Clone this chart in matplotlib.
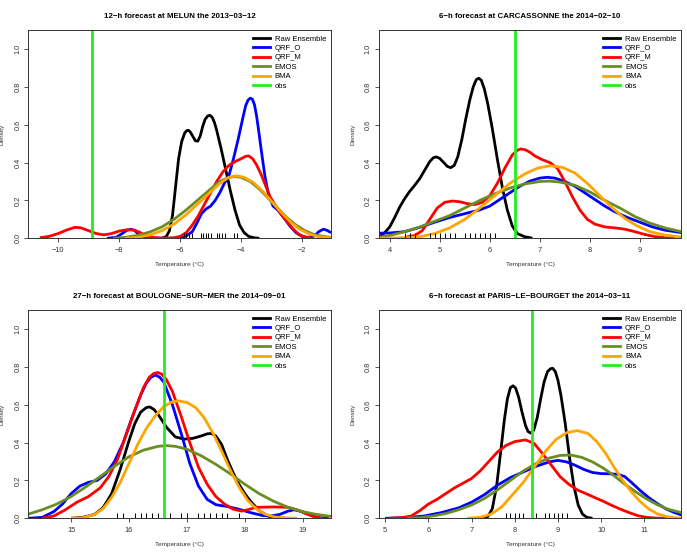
import matplotlib
matplotlib.use("Agg")
import matplotlib.pyplot as plt
from matplotlib.lines import Line2D

plt.rcParams['font.family'] = ['Liberation Sans', 'DejaVu Sans']

# ---------------- data ----------------
titles = ["12\u2212h forecast at MELUN the 2013\u221203\u221212",
          "6\u2212h forecast at CARCASSONNE the 2014\u221202\u221210",
          "27\u2212h forecast at BOULOGNE\u2212SUR\u2212MER the 2014\u221209\u221201",
          "6\u2212h forecast at PARIS\u2212LE\u2212BOURGET the 2014\u221203\u221211"]
xlims = [(-10.98, -1.05), (3.78, 9.83), (14.26, 19.49), (4.85, 11.86)]
xticks = [[-10, -8, -6, -4, -2], [4, 5, 6, 7, 8, 9], [15, 16, 17, 18, 19], [5, 6, 7, 8, 9, 10, 11]]
obs = [-8.9, 6.5, 16.6, 8.4]
legend_labels = ["Raw Ensemble", "QRF_O", "QRF_M", "EMOS", "BMA", "obs"]

# Panel 1 : MELUN
p1_raw = [(-6.6,0),(-6.45,0.01),(-6.35,0.04),(-6.25,0.12),(-6.15,0.27),(-6.05,0.42),(-5.95,0.51),(-5.85,0.556),(-5.78,0.569),(-5.72,0.57),(-5.66,0.56),(-5.6,0.543),(-5.5,0.515),(-5.42,0.513),(-5.34,0.54),(-5.26,0.59),(-5.18,0.628),(-5.1,0.645),(-5.03,0.65),(-4.95,0.64),(-4.87,0.61),(-4.8,0.57),(-4.65,0.47),(-4.5,0.36),(-4.35,0.25),(-4.2,0.15),(-4.05,0.07),(-3.9,0.03),(-3.75,0.01),(-3.55,0.002),(-3.4,0)]
p1_qrfo = [(-8.4,0),(-8.1,0.005),(-7.9,0.025),(-7.75,0.042),(-7.62,0.048),(-7.5,0.042),(-7.35,0.02),(-7.2,0.005),(-7.0,0),(-6.2,0),(-6.0,0.003),(-5.8,0.012),(-5.6,0.035),(-5.45,0.08),(-5.3,0.13),(-5.15,0.155),(-5.0,0.17),(-4.85,0.2),(-4.7,0.24),(-4.55,0.29),(-4.4,0.33),(-4.25,0.42),(-4.1,0.52),(-3.95,0.63),(-3.85,0.7),(-3.77,0.73),(-3.7,0.74),(-3.63,0.735),(-3.56,0.705),(-3.49,0.645),(-3.42,0.565),(-3.35,0.48),(-3.22,0.33),(-3.1,0.23),(-2.95,0.17),(-2.8,0.15),(-2.6,0.11),(-2.4,0.065),(-2.2,0.03),(-2.0,0.01),(-1.8,0.005),(-1.6,0.012),(-1.45,0.035),(-1.3,0.048),(-1.18,0.042),(-1.05,0.03)]
p1_qrfm = [(-10.6,0.003),(-10.3,0.01),(-10.0,0.025),(-9.7,0.045),(-9.45,0.058),(-9.25,0.055),(-9.0,0.04),(-8.75,0.025),(-8.5,0.018),(-8.25,0.025),(-8.0,0.038),(-7.75,0.045),(-7.5,0.043),(-7.3,0.03),(-7.1,0.012),(-6.85,0.004),(-6.5,0.001),(-6.2,0.003),(-6.0,0.01),(-5.8,0.03),(-5.6,0.07),(-5.4,0.12),(-5.2,0.18),(-5.0,0.24),(-4.8,0.3),(-4.6,0.35),(-4.4,0.385),(-4.2,0.405),(-4.0,0.42),(-3.85,0.433),(-3.75,0.435),(-3.62,0.42),(-3.5,0.39),(-3.35,0.34),(-3.2,0.28),(-3.05,0.22),(-2.9,0.18),(-2.7,0.13),(-2.5,0.09),(-2.3,0.05),(-2.1,0.02),(-1.9,0.006),(-1.7,0.001)]
p1_emos = [(-8.2,0),(-7.8,0.005),(-7.4,0.015),(-7.0,0.033),(-6.6,0.06),(-6.2,0.1),(-5.8,0.15),(-5.4,0.205),(-5.0,0.26),(-4.7,0.3),(-4.4,0.322),(-4.2,0.326),(-4.0,0.322),(-3.7,0.3),(-3.4,0.26),(-3.1,0.21),(-2.8,0.16),(-2.5,0.11),(-2.2,0.07),(-1.9,0.04),(-1.6,0.02),(-1.3,0.01),(-1.05,0.005)]
p1_bma = [(-7.8,0),(-7.4,0.005),(-7.0,0.017),(-6.6,0.04),(-6.2,0.075),(-5.8,0.125),(-5.4,0.185),(-5.0,0.245),(-4.7,0.29),(-4.4,0.322),(-4.15,0.33),(-3.9,0.322),(-3.6,0.295),(-3.3,0.25),(-3.0,0.195),(-2.7,0.14),(-2.4,0.09),(-2.1,0.05),(-1.8,0.025),(-1.5,0.01),(-1.05,0.003)]
p1_rug = [-5.88,-5.80,-5.72,-5.60,-5.31,-5.24,-5.16,-5.07,-4.99,-4.80,-4.72,-4.63,-4.52,-4.22,-4.14]

# Panel 2 : CARCASSONNE
p2_raw = [(3.78,0.005),(3.9,0.03),(4.0,0.06),(4.1,0.11),(4.2,0.165),(4.3,0.21),(4.4,0.248),(4.5,0.28),(4.6,0.315),(4.7,0.36),(4.8,0.405),(4.87,0.425),(4.93,0.43),(5.0,0.422),(5.08,0.4),(5.15,0.38),(5.22,0.373),(5.29,0.385),(5.36,0.43),(5.44,0.52),(5.52,0.63),(5.6,0.73),(5.67,0.8),(5.73,0.838),(5.78,0.845),(5.83,0.835),(5.89,0.79),(5.96,0.71),(6.05,0.58),(6.15,0.42),(6.25,0.27),(6.35,0.15),(6.45,0.065),(6.55,0.025),(6.7,0.008),(6.85,0.001)]
p2_qrfo = [(3.78,0.027),(4.0,0.028),(4.3,0.035),(4.6,0.058),(4.9,0.085),(5.2,0.11),(5.5,0.13),(5.8,0.15),(6.0,0.17),(6.2,0.205),(6.4,0.24),(6.6,0.275),(6.8,0.302),(7.0,0.318),(7.15,0.322),(7.3,0.318),(7.5,0.3),(7.7,0.275),(7.9,0.24),(8.1,0.205),(8.3,0.17),(8.5,0.14),(8.75,0.11),(9.0,0.085),(9.25,0.06),(9.5,0.043),(9.83,0.03)]
p2_qrfm = [(4.3,0.005),(4.5,0.015),(4.65,0.04),(4.8,0.1),(4.95,0.16),(5.1,0.19),(5.25,0.197),(5.4,0.193),(5.55,0.183),(5.7,0.178),(5.85,0.19),(6.0,0.225),(6.15,0.29),(6.3,0.37),(6.45,0.44),(6.55,0.465),(6.62,0.472),(6.7,0.468),(6.8,0.455),(6.9,0.435),(7.05,0.415),(7.2,0.4),(7.35,0.37),(7.5,0.3),(7.65,0.22),(7.8,0.15),(7.95,0.1),(8.1,0.075),(8.3,0.06),(8.5,0.055),(8.7,0.048),(8.9,0.035),(9.1,0.02),(9.3,0.009),(9.5,0.003),(9.7,0.0)]
p2_emos = [(3.78,0.005),(4.0,0.015),(4.3,0.035),(4.6,0.06),(4.9,0.09),(5.2,0.12),(5.5,0.16),(5.8,0.2),(6.1,0.235),(6.4,0.265),(6.7,0.287),(7.0,0.3),(7.2,0.302),(7.4,0.297),(7.7,0.28),(8.0,0.245),(8.3,0.2),(8.6,0.16),(8.9,0.115),(9.2,0.08),(9.5,0.055),(9.83,0.035)]
p2_bma = [(3.78,0),(4.3,0.003),(4.6,0.008),(4.9,0.025),(5.2,0.055),(5.5,0.1),(5.8,0.16),(6.1,0.225),(6.4,0.29),(6.7,0.34),(6.95,0.37),(7.2,0.383),(7.45,0.375),(7.7,0.345),(7.95,0.29),(8.2,0.225),(8.45,0.16),(8.7,0.105),(8.95,0.065),(9.2,0.035),(9.5,0.017),(9.83,0.007)]
p2_rug = [4.3,4.4,4.5,4.8,4.9,5.0,5.1,5.2,5.3,5.5,5.6,5.7,5.8,5.9,6.0,6.1]

# Panel 3 : BOULOGNE-SUR-MER
p3_raw = [(15.0,0),(15.2,0.005),(15.4,0.02),(15.55,0.055),(15.7,0.13),(15.85,0.26),(16.0,0.41),(16.1,0.5),(16.2,0.56),(16.3,0.585),(16.36,0.588),(16.43,0.575),(16.5,0.55),(16.65,0.48),(16.8,0.43),(16.95,0.418),(17.1,0.422),(17.25,0.435),(17.35,0.446),(17.42,0.448),(17.5,0.435),(17.6,0.39),(17.7,0.31),(17.8,0.24),(17.9,0.18),(18.0,0.13),(18.1,0.09),(18.25,0.04),(18.4,0.012),(18.55,0.003),(18.7,0)]
p3_qrfo = [(14.26,0),(14.5,0.005),(14.7,0.035),(14.85,0.075),(15.0,0.13),(15.15,0.17),(15.3,0.19),(15.45,0.2),(15.6,0.235),(15.75,0.3),(15.9,0.4),(16.05,0.53),(16.2,0.65),(16.3,0.715),(16.38,0.745),(16.46,0.757),(16.53,0.745),(16.6,0.72),(16.75,0.6),(16.9,0.45),(17.05,0.29),(17.2,0.17),(17.35,0.1),(17.5,0.072),(17.7,0.062),(17.9,0.048),(18.1,0.03),(18.3,0.015),(18.45,0.012),(18.6,0.02),(18.75,0.038),(18.85,0.045),(19.0,0.035),(19.15,0.015),(19.3,0.003),(19.45,0)]
p3_qrfm = [(14.5,0),(14.7,0.012),(14.9,0.045),(15.1,0.085),(15.3,0.115),(15.5,0.16),(15.65,0.22),(15.8,0.31),(15.95,0.44),(16.1,0.57),(16.25,0.69),(16.35,0.745),(16.43,0.765),(16.5,0.77),(16.57,0.76),(16.65,0.73),(16.75,0.67),(16.9,0.54),(17.05,0.4),(17.2,0.27),(17.35,0.18),(17.5,0.115),(17.65,0.075),(17.8,0.048),(17.95,0.038),(18.05,0.045),(18.2,0.058),(18.5,0.06),(18.75,0.058),(18.9,0.045),(19.05,0.025),(19.2,0.008),(19.35,0)]
p3_emos = [(14.26,0.022),(14.5,0.045),(14.75,0.075),(15.0,0.115),(15.25,0.165),(15.5,0.22),(15.75,0.275),(16.0,0.325),(16.25,0.36),(16.5,0.38),(16.65,0.384),(16.8,0.38),(17.0,0.365),(17.25,0.33),(17.5,0.285),(17.75,0.235),(18.0,0.18),(18.25,0.13),(18.5,0.09),(18.75,0.058),(19.0,0.035),(19.25,0.02),(19.49,0.01)]
p3_bma = [(15.0,0),(15.2,0.003),(15.4,0.02),(15.55,0.05),(15.7,0.11),(15.85,0.19),(16.0,0.29),(16.15,0.39),(16.3,0.475),(16.45,0.54),(16.6,0.59),(16.75,0.615),(16.85,0.62),(17.0,0.612),(17.15,0.585),(17.3,0.53),(17.45,0.45),(17.6,0.355),(17.75,0.255),(17.9,0.165),(18.05,0.095),(18.2,0.05),(18.35,0.022),(18.5,0.008),(18.7,0.002),(18.9,0)]
p3_rug = [15.8,15.9,16.1,16.2,16.3,16.4,16.5,16.7,16.9,17.0,17.2,17.3,17.4,17.5,17.6,17.7,17.9]

# Panel 4 : PARIS-LE-BOURGET
p4_raw = [(7.25,0),(7.38,0.01),(7.48,0.05),(7.58,0.17),(7.68,0.36),(7.76,0.52),(7.83,0.63),(7.9,0.69),(7.96,0.7),(8.02,0.688),(8.09,0.64),(8.17,0.56),(8.25,0.49),(8.31,0.458),(8.37,0.45),(8.44,0.465),(8.52,0.53),(8.6,0.63),(8.68,0.72),(8.76,0.775),(8.83,0.79),(8.88,0.792),(8.94,0.775),(9.0,0.73),(9.07,0.65),(9.17,0.5),(9.27,0.32),(9.37,0.17),(9.47,0.07),(9.57,0.022),(9.67,0.005),(9.8,0)]
p4_qrfo = [(5.0,0),(5.5,0.004),(5.9,0.012),(6.3,0.03),(6.7,0.055),(7.0,0.085),(7.3,0.125),(7.6,0.175),(7.9,0.215),(8.2,0.245),(8.5,0.275),(8.8,0.298),(9.0,0.306),(9.2,0.298),(9.4,0.28),(9.6,0.258),(9.8,0.242),(10.0,0.236),(10.2,0.235),(10.4,0.232),(10.55,0.22),(10.7,0.19),(10.9,0.148),(11.1,0.11),(11.3,0.078),(11.5,0.05),(11.7,0.03),(11.86,0.018)]
p4_qrfm = [(5.1,0),(5.4,0.004),(5.6,0.012),(5.8,0.04),(6.0,0.075),(6.2,0.1),(6.4,0.13),(6.6,0.16),(6.8,0.185),(7.0,0.21),(7.2,0.25),(7.4,0.3),(7.6,0.35),(7.8,0.385),(8.0,0.405),(8.25,0.414),(8.45,0.395),(8.65,0.34),(8.85,0.28),(9.05,0.22),(9.25,0.18),(9.45,0.15),(9.65,0.13),(9.85,0.11),(10.05,0.09),(10.25,0.068),(10.45,0.048),(10.65,0.03),(10.85,0.014),(11.05,0.005),(11.3,0.001),(11.5,0)]
p4_emos = [(5.5,0),(5.8,0.004),(6.1,0.012),(6.4,0.025),(6.7,0.045),(7.0,0.07),(7.3,0.105),(7.6,0.15),(7.9,0.2),(8.2,0.25),(8.5,0.29),(8.8,0.318),(9.05,0.332),(9.3,0.334),(9.55,0.322),(9.8,0.298),(10.05,0.265),(10.3,0.225),(10.55,0.18),(10.8,0.14),(11.05,0.103),(11.3,0.072),(11.55,0.048),(11.86,0.03)]
p4_bma = [(6.9,0),(7.2,0.005),(7.45,0.022),(7.7,0.06),(7.95,0.125),(8.2,0.19),(8.45,0.27),(8.7,0.35),(8.95,0.415),(9.2,0.452),(9.45,0.463),(9.7,0.448),(9.9,0.405),(10.1,0.345),(10.3,0.27),(10.5,0.2),(10.7,0.14),(10.9,0.09),(11.1,0.05),(11.3,0.024),(11.5,0.01),(11.7,0.003),(11.86,0.001)]
p4_rug = [7.8,7.9,8.0,8.1,8.2,8.5,8.7,8.8,8.9,9.0,9.1,9.2]

panels = [
    (p1_raw, p1_qrfo, p1_qrfm, p1_emos, p1_bma, p1_rug),
    (p2_raw, p2_qrfo, p2_qrfm, p2_emos, p2_bma, p2_rug),
    (p3_raw, p3_qrfo, p3_qrfm, p3_emos, p3_bma, p3_rug),
    (p4_raw, p4_qrfo, p4_qrfm, p4_emos, p4_bma, p4_rug),
]

# ---------------- styling ----------------
colors = ["black", "#0000FF", "#FF0000", "#6B8E23", "#FFA500", "#22EE22"]
W, H = 687, 560
axes_px = [(28.3, 30.0), (378.7, 30.0), (28.3, 310.0), (378.7, 310.0)]  # left, top
AW, AH = 302.7, 208.3
ink = "#333333"

fig = plt.figure(figsize=(W / 100, H / 100), dpi=100)

for i, (l, t) in enumerate(axes_px):
    ax = fig.add_axes([l / W, (H - t - AH) / H, AW / W, AH / H])
    raw, qo, qm, em, bm, rug = panels[i]
    curves = [raw, qo, qm, em, bm]
    for c, col in zip(curves, colors[:5]):
        xs = [p[0] for p in c]
        ys = [p[1] for p in c]
        ax.plot(xs, ys, color=col, lw=2.0, solid_joinstyle='round', solid_capstyle='butt')
    ax.vlines(rug, 0, 0.027, color='black', lw=0.7)
    ax.axvline(obs[i], color=colors[5], lw=2.0)

    ax.set_xlim(*xlims[i])
    ax.set_ylim(0, 1.1)
    ax.set_xticks(xticks[i])
    ax.set_yticks([0, 0.2, 0.4, 0.6, 0.8, 1.0])
    ax.set_yticklabels(["0.0", "0.2", "0.4", "0.6", "0.8", "1.0"])
    ax.tick_params(direction='out', length=3, width=0.6, color=ink, labelcolor=ink,
                   labelsize=5.3, pad=2)
    ax.tick_params(axis='x', pad=3)
    for lab in ax.get_yticklabels():
        lab.set_rotation(90)
        lab.set_va('center')
    for s in ax.spines.values():
        s.set_color(ink)
        s.set_linewidth(0.7)

    ax.set_title(titles[i], fontsize=5.7, fontweight='bold', pad=9)
    ax.set_xlabel("Temperature (\u00b0C)", fontsize=4.6, color=ink)
    ax.xaxis.set_label_coords(0.5, -0.116)
    ax.set_ylabel("Density", fontsize=4.6, color=ink)
    ax.yaxis.set_label_coords(-0.078, 0.5)

    handles = [Line2D([], [], color=c, lw=2.0) for c in colors]
    ax.legend(handles, legend_labels, loc='upper left', bbox_to_anchor=(0.742, 0.975),
              frameon=False, fontsize=5.5, handlelength=2.2, handletextpad=0.65,
              labelspacing=0.27, borderaxespad=0, borderpad=0)

fig.savefig("out.png", dpi=100)
